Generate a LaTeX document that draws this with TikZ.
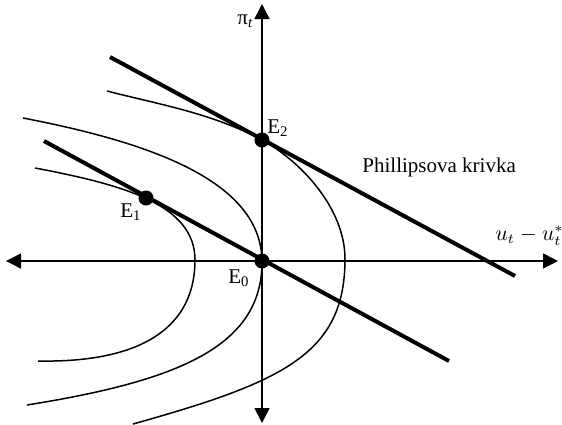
\documentclass[tikz,border=0pt]{standalone}
\usepackage{fontspec}
\setmainfont{Liberation Serif}
\usetikzlibrary{arrows.meta}
\begin{document}
\begin{tikzpicture}[x=0.5pt,y=-0.5pt,font=\fontsize{10.5}{12}\selectfont,
  os/.style={line width=0.75pt,
    {Triangle[length=7.5pt,width=7.5pt]}-{Triangle[length=7.5pt,width=7.5pt]}},
  pk/.style={line width=2pt},
  ic/.style={line width=0.75pt},
  bod/.style={circle,fill,inner sep=0pt,minimum size=7.5pt},
  popis/.style={anchor=base west,inner sep=0pt}]
  \useasboundingbox (0,0) rectangle (562,424);
  % osi
  \coordinate (xl) at (6,261);   \coordinate (xr) at (558,261);
  \coordinate (yd) at (262,423); \coordinate (yh) at (262,4);
  \draw[os] (xl) -- (xr);
  \draw[os] (yd) -- (yh);
  % indiferencne krivky (vrchol vpravo)
  \draw[ic] (35,168) .. controls (125,185) and (195,205) .. (195,260)
                     .. controls (195,325) and (145,363) .. (38,361);
  \draw[ic] (23,118) .. controls (153,143) and (262,182) .. (262,262)
                     .. controls (262,347) and (177,381) .. (27,405);
  \draw[ic] (107,91) .. controls (157,104) and (212,113) .. (262,140)
                     .. controls (302,162) and (345,209) .. (345,259)
                     .. controls (345,354) and (283,382) .. (133,424);
  % Phillipsove krivky
  \coordinate (p0a) at (44,141);  \coordinate (p0b) at (449,361);
  \coordinate (p2a) at (110,57);  \coordinate (p2b) at (515,276);
  \draw[pk] (p0a) -- (p0b);
  \draw[pk] (p2a) -- (p2b);
  % rovnovazne body
  \node[bod] (E0) at (262,261) {};
  \node[bod] (E1) at (146,198) {};
  \node[bod] (E2) at (262,140) {};
  \node[popis] (lE0) at (228,283) {E\textsubscript{0}};
  \node[popis] (lE1) at (120,217) {E\textsubscript{1}};
  \node[popis] (lE2) at (267,133) {E\textsubscript{2}};
  % popisy osi a krivky
  \node[popis] (lpi) at (237,24) {π\textsubscript{\textit{t}}};
  \node[popis] (lu) at (495,240) {$u_t - u_t^{*}$};
  \node[popis] (lpk) at (362,172) {Phillipsova krivka};
\end{tikzpicture}
\end{document}
